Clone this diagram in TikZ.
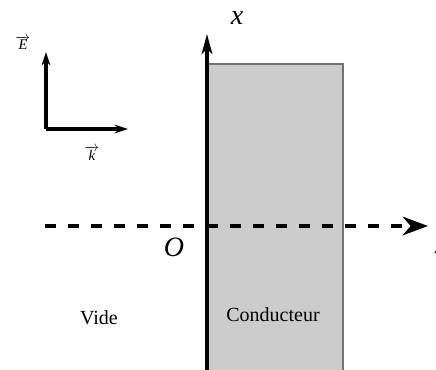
\documentclass[tikz,border=0pt]{standalone}
\usepackage{fontspec}
\setmainfont{Liberation Serif}
\usetikzlibrary{arrows.meta}
\begin{document}
\begin{tikzpicture}[x=0.75pt,y=-0.75pt,
  thickline/.style={line width=2.3pt},
  bigtip/.style={-{Stealth[length=15pt,width=8pt,inset=4pt]}},
  dashtip/.style={-{Stealth[length=19pt,width=14pt,inset=6pt]}},
  smalltip/.style={-{Stealth[length=10pt,width=6.5pt,inset=3pt]}},
  lbl/.style={font=\fontsize{15}{18}\selectfont},
  axlbl/.style={font=\fontsize{21}{24}\selectfont\itshape},
  veclbl/.style={font=\fontsize{11}{13}\selectfont\itshape,inner sep=1pt}]
\useasboundingbox (0,0) rectangle (436,369);
% conductor
\fill[fill={rgb,255:red,204;green,204;blue,204}] (207,64) rectangle (343,375);
\draw[line width=0.8pt,gray!90!black] (207,64) -- (343,64) -- (343,375);
% coordinates
\coordinate (ybot) at (207,375);
\coordinate (xtop) at (207,34);
\coordinate (dstart) at (45,226);
\coordinate (dend) at (428,226);
\coordinate (vo) at (46,129);
\coordinate (etip) at (46,52);
\coordinate (ktip) at (128,129);
% axes
\draw[thickline,bigtip] (ybot) -- (xtop);
\draw[thickline,dashtip,dash pattern=on 8.3pt off 9pt] (dstart) -- (dend);
% vectors
\draw[thickline,smalltip] (vo) -- (etip);
\draw[thickline,smalltip] (vo) -- (ktip);
% labels
\node[axlbl] (xl) at (237,18) {x};
\node[axlbl] (ol) at (174,247) {O};
\node[axlbl,anchor=base west,inner sep=0pt] (zl) at (434.5,253) {z};
\node[veclbl] (el) at (23,43) {$\overrightarrow{\mbox{\itshape E}}$};
\node[veclbl] (kl) at (92,153) {$\overrightarrow{\mbox{\itshape k}}$};
\node[lbl] (vide) at (99,318) {Vide};
\node[lbl] (cond) at (273,315) {Conducteur};
\end{tikzpicture}
\end{document}
